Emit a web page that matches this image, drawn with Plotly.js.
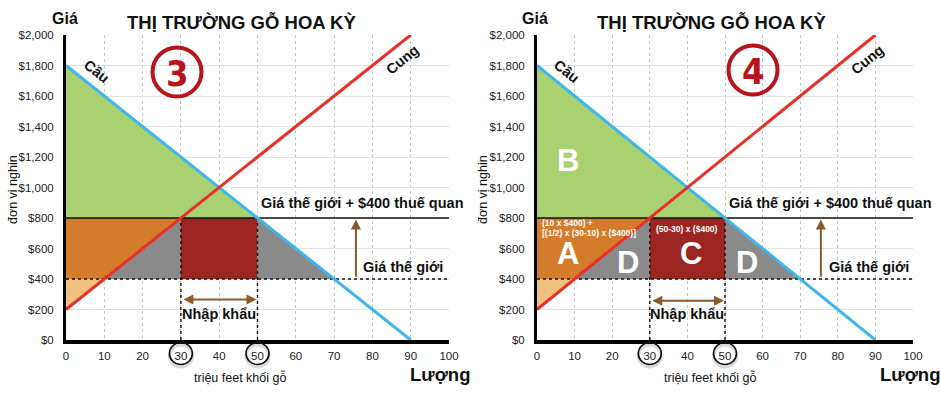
<!DOCTYPE html>
<html>
<head>
<meta charset="utf-8">
<script src="https://cdn.plot.ly/plotly-3.0.1.min.js"></script>
<style>html,body{margin:0;padding:0;background:#fff;}#chart{width:940px;height:394px;}</style>
</head>
<body>
<div id="chart"></div>
<script>
// ---- data ----
const qTicks = [0,10,20,30,40,50,60,70,80,90,100];
const pTicks = [0,200,400,600,800,1000,1200,1400,1600,1800,2000];
const demandQ = [0, 90];
const demandP = [1800, 0];
const supplyQ = [0, 90];
const supplyP = [200, 2000];
const worldPrice = 400;
const tariffPrice = 800;
const qMax = 100;
const importsQ = [30, 50];
// shaded regions
const greenQ = [0, 0, 50];        const greenP = [1800, 800, 800];
const orangeQ = [0, 0, 30, 10];   const orangeP = [400, 800, 800, 400];
const peachQ = [0, 0, 10];        const peachP = [200, 400, 400];
const grayLQ = [10, 30, 30];      const grayLP = [400, 800, 400];
const redQ = [30, 30, 50, 50];    const redP = [400, 800, 800, 400];
const grayRQ = [50, 50, 70];      const grayRP = [800, 400, 400];
const panelNumbers = ['3', '4'];
const titleText = 'THỊ TRƯỜNG GỖ HOA KỲ';

// ---- layout helpers ----
const W = 940, H = 394, MT = 35, MB = 54, PH = H - MT - MB;
const dom1 = [66 / W, 449 / W];
const dom2 = [537 / W, 913 / W];
const px = v => v / W;
const py = v => (H - MB - v) / PH;
const FONT = 'Liberation Sans, Arial, sans-serif';

const C = {
  green: '#a9d170', orange: '#d27c2c', peach: '#efc07f', gray: '#8a8a8a',
  red: '#9b2621', demand: '#3db6ec', supply: '#e8302a', brown: '#8b5a2b', circle: '#b8141c'
};

function fillTrace(xs, ys, color, xa, ya) {
  return {x: xs, y: ys, xaxis: xa, yaxis: ya, type: 'scatter', mode: 'lines',
    line: {width: 0, color: color}, fill: 'toself', fillcolor: color, hoverinfo: 'skip', showlegend: false};
}
function lineTrace(xs, ys, color, width, dash, xa, ya) {
  return {x: xs, y: ys, xaxis: xa, yaxis: ya, type: 'scatter', mode: 'lines',
    line: {width: width, color: color, dash: dash || 'solid'}, hoverinfo: 'skip', showlegend: false};
}

const traces = [];
const annotations = [];
const shapes = [];

function paperText(x, y, text, size, extra) {
  return Object.assign({xref: 'paper', yref: 'paper', x: px(x), y: py(y), text: text, showarrow: false,
    xanchor: 'center', yanchor: 'middle', font: {family: FONT, size: size, color: '#111'}}, extra || {});
}

function buildPanel(idx) {
  const xa = idx === 0 ? 'x' : 'x2';
  const ya = idx === 0 ? 'y' : 'y2';
  const dom = idx === 0 ? dom1 : dom2;
  const off = idx === 0 ? 0 : 470;
  traces.push(fillTrace(greenQ, greenP, C.green, xa, ya));
  traces.push(fillTrace(orangeQ, orangeP, C.orange, xa, ya));
  traces.push(fillTrace(peachQ, peachP, C.peach, xa, ya));
  traces.push(fillTrace(grayLQ, grayLP, C.gray, xa, ya));
  traces.push(fillTrace(redQ, redP, C.red, xa, ya));
  traces.push(fillTrace(grayRQ, grayRP, C.gray, xa, ya));
  traces.push(lineTrace([0, qMax], [tariffPrice, tariffPrice], '#111', 1.5, 'solid', xa, ya));
  traces.push(lineTrace([0, qMax], [worldPrice, worldPrice], '#111', 1.6, 'dot', xa, ya));
  importsQ.forEach(q => traces.push(lineTrace([q, q], [0, tariffPrice], '#111', 1.4, 'dot', xa, ya)));
  traces.push(lineTrace(demandQ, demandP, C.demand, 3, 'solid', xa, ya));
  traces.push(lineTrace(supplyQ, supplyP, C.supply, 3, 'solid', xa, ya));

  const xr = xa, yr = ya;
  // arrows
  const hy = idx === 0 ? 265 : 258;
  annotations.push({xref: xr, yref: yr, axref: xr, ayref: yr, x: importsQ[1], y: hy,
    ax: importsQ[0], ay: hy, text: '', showarrow: true, arrowside: 'end+start',
    arrowhead: 2, arrowsize: 1, arrowwidth: 2, arrowcolor: C.brown, standoff: 1, startstandoff: 1});
  const vq = idx === 0 ? 75.7 : 75.5;
  annotations.push({xref: xr, yref: yr, axref: xr, ayref: yr, x: vq, y: 790, ax: vq, ay: 405,
    text: '', showarrow: true, arrowhead: 2, arrowsize: 1, arrowwidth: 2, arrowcolor: C.brown});
  // texts
  const bf = size => ({family: FONT, size: size, color: '#111'});
  annotations.push({xref: xr, yref: yr, x: 40, y: 170, xanchor: 'center', yanchor: 'middle',
    text: '<b>Nhập khẩu</b>', showarrow: false, font: bf(14.5)});
  annotations.push({xref: xr, yref: yr, x: 50.5, y: 900, xanchor: 'left', yanchor: 'middle',
    text: '<b>Giá thế giới + $400 thuế quan</b>', showarrow: false, font: bf(14.5)});
  annotations.push({xref: xr, yref: yr, x: 77, y: 482, xanchor: 'left', yanchor: 'middle',
    text: '<b>Giá thế giới</b>', showarrow: false, font: bf(14.5)});
  // title etc
  annotations.push(paperText(off + 241, 22, '<b>' + titleText + '</b>', 18.5));
  annotations.push(paperText(off + 65, 18, '<b>Giá</b>', 16));
  annotations.push(paperText(off + 13, 190, 'đơn vị nghin', 12.5, {textangle: -90}));
  annotations.push(paperText(off + 240, 377, 'triệu feet khối gỗ', 12.5));
  annotations.push(paperText(off + 440, 375, '<b>Lượng</b>', 18.5));
  annotations.push(paperText(off + 96, 71, '<b>Cầu</b>', 14.5, {textangle: 39}));
  annotations.push(paperText(off + (idx === 0 ? 402 : 397), 60, '<b>Cung</b>', 14.5, {textangle: -39}));
  // big circled number
  const cx = idx === 0 ? 177 : 753, cy = idx === 0 ? 72 : 70;
  shapes.push({type: 'circle', xref: 'paper', yref: 'paper', xsizemode: 'pixel', ysizemode: 'pixel',
    xanchor: px(cx), yanchor: py(cy), x0: -24.5, x1: 24.5, y0: -24.5, y1: 24.5,
    line: {color: C.circle, width: 4}});
  annotations.push(paperText(cx, cy + 1, '<b>' + panelNumbers[idx] + '</b>', 36,
    {font: {family: 'DejaVu Sans Condensed, Liberation Sans Narrow, ' + FONT, size: 36, color: C.circle}}));
  // tick circles
  importsQ.forEach(q => {
    const xx = dom[0] + (dom[1] - dom[0]) * q / qMax;
    shapes.push({type: 'circle', xref: 'paper', yref: 'paper', xsizemode: 'pixel', ysizemode: 'pixel',
      xanchor: xx, yanchor: py(356), x0: -11.5, x1: 11.5, y0: -11, y1: 11,
      line: {color: 'rgba(0,0,0,0.15)', width: 3}});
    shapes.push({type: 'circle', xref: 'paper', yref: 'paper', xsizemode: 'pixel', ysizemode: 'pixel',
      xanchor: xx, yanchor: py(353.5), x0: -11.5, x1: 11.5, y0: -11, y1: 11,
      line: {color: '#111', width: 1.6}});
  });
}
buildPanel(0);
buildPanel(1);

// right-panel labels
const W2 = (x, y, t, size, xanchor) => ({xref: 'x2', yref: 'y2', x: x, y: y, text: '<b>' + t + '</b>', showarrow: false,
  xanchor: xanchor || 'center', yanchor: 'middle', font: {family: FONT, size: size, color: '#fff'}});
annotations.push(W2(8.2, 1180, 'B', 31));
annotations.push(W2(8.2, 565, 'A', 31));
annotations.push(W2(24.2, 505, 'D', 31));
annotations.push(W2(41, 565, 'C', 31));
annotations.push(W2(55.9, 505, 'D', 31));
annotations.push(W2(0.7, 767, '(10 x $400) +', 8.5, 'left'));
annotations.push(W2(0.7, 703, '[(1/2) x (30-10) x ($400)]', 8.5, 'left'));
annotations.push(W2(40, 728, '(50-30) x ($400)', 8.5));

function xAxis(dom, anchor) {
  return {domain: dom, anchor: anchor, range: [0, qMax], tickvals: qTicks, ticktext: qTicks.map(String),
    showgrid: true, gridcolor: '#c4c4c4', griddash: 'dot', gridwidth: 1, zeroline: false,
    showline: true, linecolor: '#000', linewidth: 3.5, ticks: '', ticklabelstandoff: 3,
    tickfont: {family: FONT, size: 11.5, color: '#222'}, fixedrange: true};
}
function yAxis(anchor) {
  return {domain: [0, 1], anchor: anchor, range: [0, 2000], tickvals: pTicks,
    ticktext: pTicks.map(v => '$' + v.toLocaleString('en-US')),
    showgrid: true, gridcolor: '#e3e3e3', gridwidth: 1, zeroline: false,
    showline: true, linecolor: '#000', linewidth: 3, ticks: '', ticklabelstandoff: 7,
    tickfont: {family: FONT, size: 11.5, color: '#222'}, fixedrange: true};
}

const layout = {
  width: W, height: H, margin: {l: 0, r: 0, t: MT, b: MB},
  paper_bgcolor: '#fff', plot_bgcolor: '#fff', showlegend: false,
  xaxis: xAxis(dom1, 'y'), yaxis: yAxis('x'),
  xaxis2: xAxis(dom2, 'y2'), yaxis2: yAxis('x2'),
  annotations: annotations, shapes: shapes
};
Plotly.newPlot('chart', traces, layout, {displayModeBar: false, staticPlot: true});
</script>
</body>
</html>
